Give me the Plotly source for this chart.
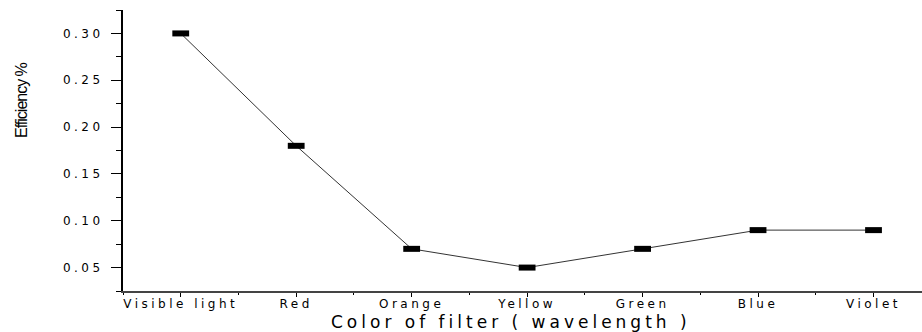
import plotly.graph_objects as go

# Filter colours and measured efficiency
filters = ["Visible light", "Red", "Orange", "Yellow", "Green", "Blue", "Violet"]
efficiency = [0.30, 0.18, 0.07, 0.05, 0.07, 0.09, 0.09]
y_ticks = [0.05, 0.10, 0.15, 0.20, 0.25, 0.30]

x_pos = list(range(len(filters)))

W, H = 922, 332
ML, MR, MT, MB = 123, 0, 10, 41

fig = go.Figure()
fig.add_trace(go.Scatter(
    x=x_pos, y=efficiency,
    mode="lines+markers",
    line=dict(color="#333333", width=1),
    marker=dict(symbol="line-ew", size=12, color="black",
                line=dict(color="black", width=6)),
    showlegend=False,
    cliponaxis=False,
))

tick_font = dict(family="DejaVu Sans", size=12, color="black")

fig.update_layout(
    width=W, height=H,
    margin=dict(l=ML, r=MR, t=MT, b=MB),
    paper_bgcolor="white", plot_bgcolor="white",
    xaxis=dict(
        range=[-0.5, 6.42],
        tickmode="array", tickvals=x_pos, ticktext=filters,
        ticks="outside", ticklen=4, tickwidth=1, tickcolor="black",
        tickfont=tick_font, ticklabelstandoff=-3,
        showline=True, linecolor="#444444", linewidth=2,
        showgrid=False, zeroline=False,
        minor=dict(tickmode="linear", tick0=0.5, dtick=1, ticks="outside",
                   ticklen=2, tickcolor="black", showgrid=False),
    ),
    yaxis=dict(
        range=[0.025, 0.325],
        tickmode="array", tickvals=y_ticks,
        ticktext=[f"{v:.2f}" for v in y_ticks],
        ticks="outside", ticklen=10, tickwidth=1, tickcolor="black",
        tickfont=tick_font, ticklabelstandoff=5,
        showline=True, linecolor="black", linewidth=2,
        showgrid=False, zeroline=False,
        minor=dict(tickmode="linear", tick0=0.025, dtick=0.05, ticks="outside",
                   ticklen=5, tickcolor="black", showgrid=False),
    ),
)


def px_to_paper(px, py):
    return (px - ML) / (W - ML - MR), (H - MB - py) / (H - MT - MB)


tx, ty = px_to_paper(511, 322)
fig.add_annotation(text="Color of filter ( wavelength )", x=tx, y=ty,
                   xref="paper", yref="paper", showarrow=False,
                   xanchor="center", yanchor="middle",
                   font=dict(family="DejaVu Sans", size=17, color="black"))
lx, ly = px_to_paper(22, 101)
fig.add_annotation(text="Efficiency %", x=lx, y=ly, textangle=-90,
                   xref="paper", yref="paper", showarrow=False,
                   xanchor="center", yanchor="middle",
                   font=dict(family="Liberation Sans", size=16, color="black"))

# Wider letter spacing for tick labels and the x title, tighter for the y title
post = """
var gd = document.getElementById('{plot_id}');
function spacing() {
  gd.querySelectorAll('.xtick text, .ytick text').forEach(function (t) {
    t.style.letterSpacing = '3.5px';
  });
  var ann = gd.querySelectorAll('.annotation-text');
  if (ann.length > 0) ann[0].style.letterSpacing = '4px';
  if (ann.length > 1) ann[1].style.letterSpacing = '-1px';
}
spacing();
gd.on('plotly_afterplot', spacing);
"""

fig.write_html("out.html", post_script=post)
